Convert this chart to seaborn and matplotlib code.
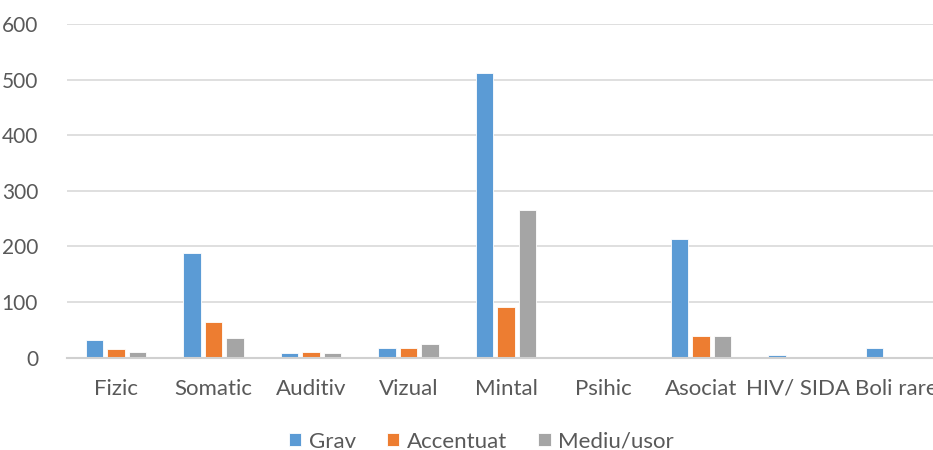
import pandas as pd
import matplotlib
matplotlib.use("Agg")
import matplotlib.pyplot as plt
import seaborn as sns

# ----------------------------------------------------------
# DATOS
# ----------------------------------------------------------

categorias = ["Fizic", "Somatic", "Auditiv", "Vizual", "Mintal",
              "Psihic", "Asociat", "HIV/ SIDA", "Boli rare"]

grav = [32, 188, 8, 18, 511, 1, 213, 5, 17]
accentuat = [16, 64, 10, 17, 92, 0, 39, 0, 0]
mediu_usor = [11, 36, 9, 25, 265, 0, 39, 0, 0]

grupos = ["Grav", "Accentuat", "Mediu/usor"]
colores = ["#5b9bd5", "#ed7d31", "#a5a5a5"]

df = pd.DataFrame({
    "categoria": categorias * 3,
    "valor": grav + accentuat + mediu_usor,
    "grupo": [g for g in grupos for _ in categorias],
})

# ----------------------------------------------------------
# ESTILO
# ----------------------------------------------------------

sns.set_style("white")
plt.rcParams["font.family"] = ["Lato", "DejaVu Sans"]

fig = plt.figure(figsize=(9.33, 4.5), dpi=100)
ax = fig.add_axes([0.0721, 0.205, 0.9405, 0.7418])

sns.barplot(
    data=df, x="categoria", y="valor", hue="grupo",
    palette=colores, saturation=1, width=0.66, gap=0.2,
    edgecolor="white", linewidth=0.6, ax=ax, legend=True,
)

ax.set_ylim(0, 600)
ax.set_yticks(range(0, 601, 100))
ax.set_xlim(-0.5, len(categorias) - 0.5)

ax.yaxis.grid(True, color="#d9d9d9", linewidth=1.2)
ax.set_axisbelow(True)

for lado in ["top", "right", "left"]:
    ax.spines[lado].set_visible(False)
ax.spines["bottom"].set_color("#d0d0d0")
ax.spines["bottom"].set_linewidth(1.5)

ax.tick_params(axis="y", length=0, pad=21, labelsize=15, labelcolor="#595959")
ax.tick_params(axis="x", length=0, pad=15, labelsize=16, labelcolor="#595959")
ax.set_xlabel("")
ax.set_ylabel("")

# leyenda abajo (centrada en el gráfico completo)
handles, labels = ax.get_legend_handles_labels()
ax.get_legend().remove()
fig.legend(
    handles, labels, loc="lower center", ncol=3, frameon=False,
    bbox_to_anchor=(0.516, -0.048), fontsize=16, labelcolor="#595959",
    handlelength=0.55, handleheight=0.55, handletextpad=0.35,
    columnspacing=1.4,
)

fig.savefig("out.png", dpi=100)
